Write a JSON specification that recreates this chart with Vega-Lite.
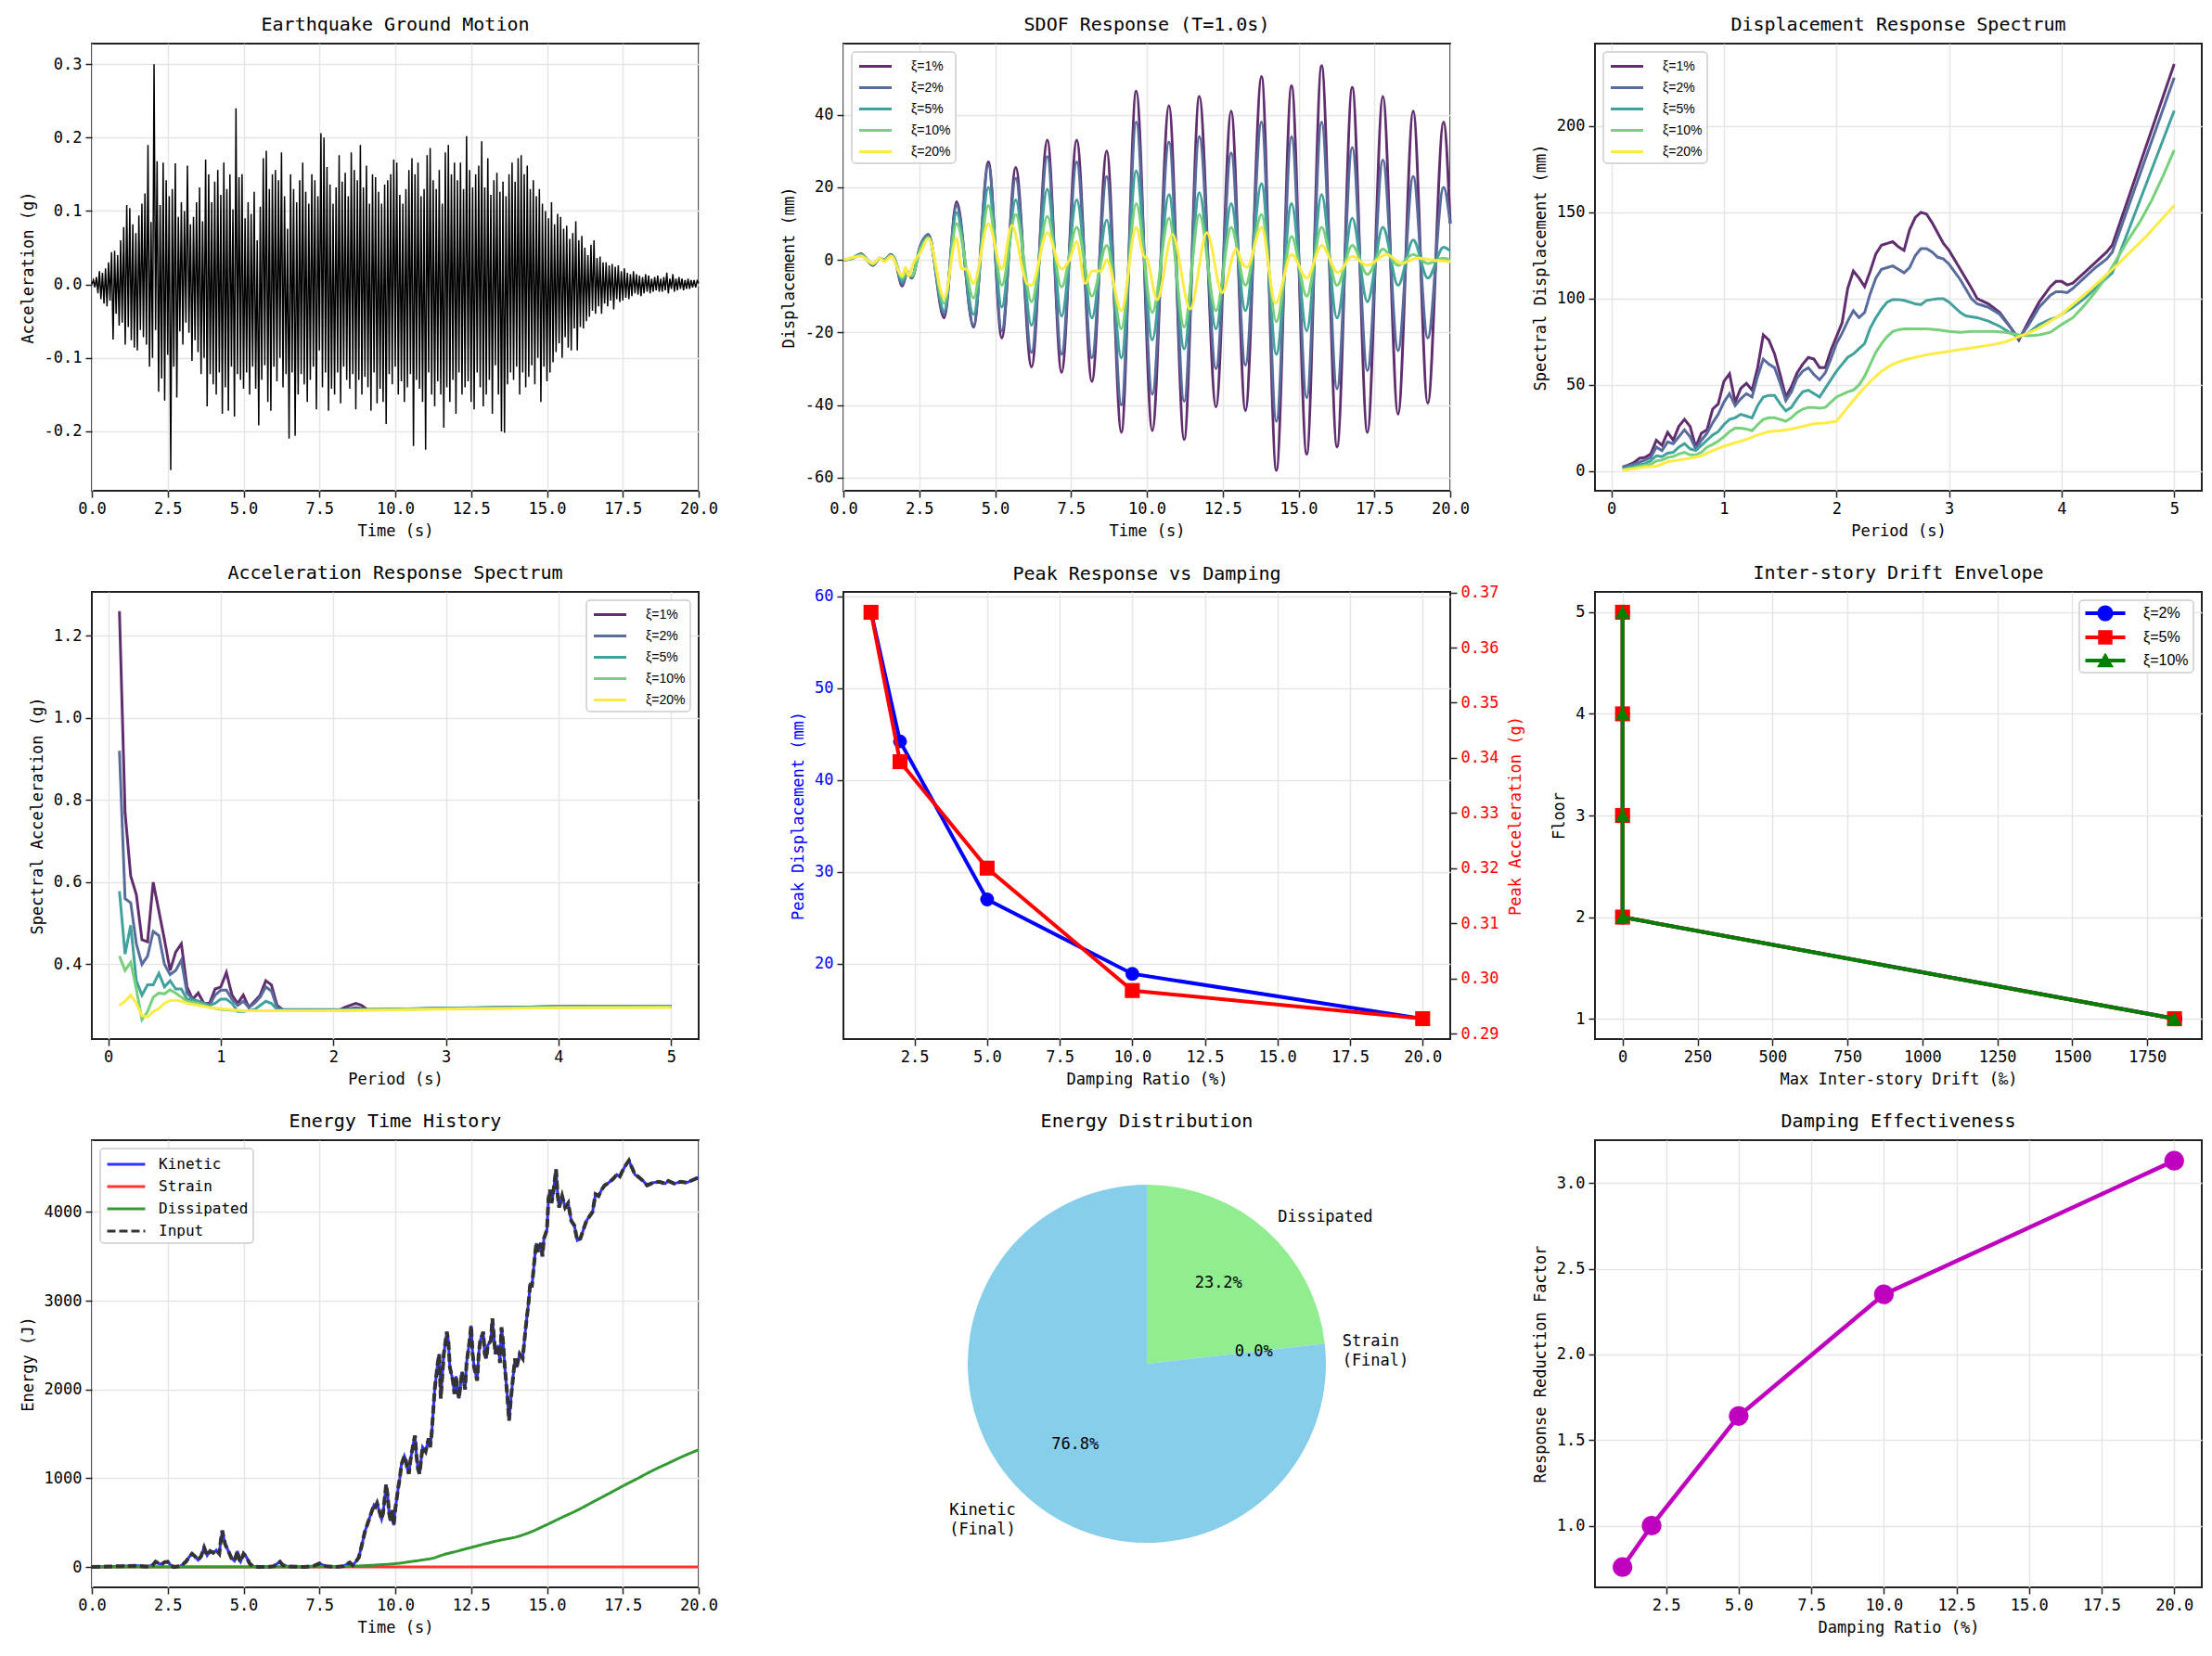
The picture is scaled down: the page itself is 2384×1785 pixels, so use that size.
{
  "$schema": "https://vega.github.io/schema/vega-lite/v6.json",
  "background": "white",
  "padding": {"left": 20, "top": 16, "right": 5, "bottom": 5},
  "bounds": "flush",
  "columns": 3,
  "spacing": {"row": 109, "column": 156},
  "resolve": {"scale": {"color": "independent", "shape": "independent", "strokeDash": "independent", "theta": "independent"}},
  "config": {
    "font": "DejaVu Sans Mono",
    "view": {"stroke": "#222222", "strokeWidth": 2},
    "axis": {
      "labelFont": "DejaVu Sans Mono", "labelFontSize": 17, "labelColor": "#000000",
      "titleFont": "DejaVu Sans Mono", "titleFontSize": 17, "titleFontWeight": "normal", "titleColor": "#000000",
      "domain": false, "tickColor": "#222222", "tickWidth": 1.5, "tickSize": 7,
      "gridColor": "#e6e6e6", "gridWidth": 1.5, "labelPadding": 4, "titlePadding": 8,
      "labelFlush": false, "labelOverlap": false
    },
    "title": {"font": "DejaVu Sans Mono", "fontSize": 20, "fontWeight": "normal", "color": "#000000", "offset": 10, "frame": "group", "anchor": "middle"},
    "legend": {
      "labelFont": "Liberation Sans", "labelFontSize": 14, "labelColor": "#000000",
      "fillColor": "#ffffff", "strokeColor": "#cccccc", "strokeWidth": 1.5, "cornerRadius": 4,
      "padding": 5, "offset": 9, "rowPadding": 5, "symbolStrokeWidth": 3
    }
  },
  "datasets": {
    "gm": [
      {"t":0,"a":0},{"t":0.05,"a":0.006},{"t":0.1,"a":-0.004},{"t":0.15,"a":0.01},{"t":0.2,"a":-0.012},{"t":0.25,"a":0.018},{"t":0.3,"a":-0.02},{"t":0.35,"a":0.016},{"t":0.4,"a":-0.026},{"t":0.45,"a":0.022},
      {"t":0.5,"a":-0.03},{"t":0.55,"a":0.03},{"t":0.6,"a":-0.022},{"t":0.65,"a":0.044},{"t":0.7,"a":-0.075},{"t":0.75,"a":0.046},{"t":0.8,"a":-0.04},{"t":0.85,"a":0.04},{"t":0.9,"a":-0.056},{"t":0.95,"a":0.06},
      {"t":1,"a":-0.052},{"t":1.05,"a":0.078},{"t":1.1,"a":-0.082},{"t":1.15,"a":0.108},{"t":1.2,"a":-0.058},{"t":1.25,"a":0.104},{"t":1.3,"a":-0.076},{"t":1.35,"a":0.082},{"t":1.4,"a":-0.086},{"t":1.45,"a":0.07},
      {"t":1.5,"a":-0.09},{"t":1.55,"a":0.094},{"t":1.6,"a":-0.062},{"t":1.65,"a":0.11},{"t":1.7,"a":-0.072},{"t":1.75,"a":0.124},{"t":1.8,"a":-0.082},{"t":1.85,"a":0.19},{"t":1.9,"a":-0.112},{"t":1.95,"a":0.085},
      {"t":2,"a":-0.1},{"t":2.05,"a":0.3},{"t":2.1,"a":-0.062},{"t":2.15,"a":0.168},{"t":2.2,"a":-0.146},{"t":2.25,"a":0.108},{"t":2.3,"a":-0.128},{"t":2.35,"a":0.166},{"t":2.4,"a":-0.158},{"t":2.45,"a":0.142},
      {"t":2.5,"a":-0.096},{"t":2.55,"a":0.12},{"t":2.6,"a":-0.253},{"t":2.65,"a":0.13},{"t":2.7,"a":-0.112},{"t":2.75,"a":0.165},{"t":2.8,"a":-0.154},{"t":2.85,"a":0.092},{"t":2.9,"a":-0.064},{"t":2.95,"a":0.112},
      {"t":3,"a":-0.082},{"t":3.05,"a":0.1},{"t":3.1,"a":-0.052},{"t":3.15,"a":0.162},{"t":3.2,"a":-0.066},{"t":3.25,"a":0.082},{"t":3.3,"a":-0.104},{"t":3.35,"a":0.092},{"t":3.4,"a":-0.076},{"t":3.45,"a":0.112},
      {"t":3.5,"a":-0.092},{"t":3.55,"a":0.132},{"t":3.6,"a":-0.122},{"t":3.65,"a":0.086},{"t":3.7,"a":-0.1},{"t":3.75,"a":0.17},{"t":3.8,"a":-0.166},{"t":3.85,"a":0.15},{"t":3.9,"a":-0.122},{"t":3.95,"a":0.112},
      {"t":4,"a":-0.136},{"t":4.05,"a":0.14},{"t":4.1,"a":-0.15},{"t":4.15,"a":0.156},{"t":4.2,"a":-0.12},{"t":4.25,"a":0.122},{"t":4.3,"a":-0.176},{"t":4.35,"a":0.166},{"t":4.4,"a":-0.14},{"t":4.45,"a":0.13},
      {"t":4.5,"a":-0.172},{"t":4.55,"a":0.15},{"t":4.6,"a":-0.112},{"t":4.65,"a":0.102},{"t":4.7,"a":-0.18},{"t":4.75,"a":0.24},{"t":4.8,"a":-0.122},{"t":4.85,"a":0.146},{"t":4.9,"a":-0.13},{"t":4.95,"a":0.15},
      {"t":5,"a":-0.142},{"t":5.05,"a":0.09},{"t":5.1,"a":-0.12},{"t":5.15,"a":0.112},{"t":5.2,"a":-0.15},{"t":5.25,"a":0.096},{"t":5.3,"a":-0.112},{"t":5.35,"a":0.126},{"t":5.4,"a":-0.142},{"t":5.45,"a":0.06},
      {"t":5.5,"a":-0.192},{"t":5.55,"a":0.106},{"t":5.6,"a":-0.13},{"t":5.65,"a":0.172},{"t":5.7,"a":-0.11},{"t":5.75,"a":0.182},{"t":5.8,"a":-0.16},{"t":5.85,"a":0.13},{"t":5.9,"a":-0.172},{"t":5.95,"a":0.15},
      {"t":6,"a":-0.112},{"t":6.05,"a":0.156},{"t":6.1,"a":-0.132},{"t":6.15,"a":0.142},{"t":6.2,"a":-0.1},{"t":6.25,"a":0.18},{"t":6.3,"a":-0.14},{"t":6.35,"a":0.12},{"t":6.4,"a":-0.122},{"t":6.45,"a":0.076},
      {"t":6.5,"a":-0.21},{"t":6.55,"a":0.15},{"t":6.6,"a":-0.12},{"t":6.65,"a":0.13},{"t":6.7,"a":-0.206},{"t":6.75,"a":0.112},{"t":6.8,"a":-0.15},{"t":6.85,"a":0.142},{"t":6.9,"a":-0.122},{"t":6.95,"a":0.166},
      {"t":7,"a":-0.136},{"t":7.05,"a":0.126},{"t":7.1,"a":-0.16},{"t":7.15,"a":0.11},{"t":7.2,"a":-0.13},{"t":7.25,"a":0.15},{"t":7.3,"a":-0.112},{"t":7.35,"a":0.142},{"t":7.4,"a":-0.17},{"t":7.45,"a":0.12},
      {"t":7.5,"a":-0.09},{"t":7.55,"a":0.206},{"t":7.6,"a":-0.14},{"t":7.65,"a":0.2},{"t":7.7,"a":-0.12},{"t":7.75,"a":0.16},{"t":7.8,"a":-0.172},{"t":7.85,"a":0.136},{"t":7.9,"a":-0.142},{"t":7.95,"a":0.11},
      {"t":8,"a":-0.15},{"t":8.05,"a":0.132},{"t":8.1,"a":-0.12},{"t":8.15,"a":0.176},{"t":8.2,"a":-0.162},{"t":8.25,"a":0.14},{"t":8.3,"a":-0.112},{"t":8.35,"a":0.152},{"t":8.4,"a":-0.13},{"t":8.45,"a":0.12},
      {"t":8.5,"a":-0.142},{"t":8.55,"a":0.18},{"t":8.6,"a":-0.122},{"t":8.65,"a":0.156},{"t":8.7,"a":-0.17},{"t":8.75,"a":0.142},{"t":8.8,"a":-0.13},{"t":8.85,"a":0.19},{"t":8.9,"a":-0.15},{"t":8.95,"a":0.132},
      {"t":9,"a":-0.126},{"t":9.05,"a":0.162},{"t":9.1,"a":-0.14},{"t":9.15,"a":0.11},{"t":9.2,"a":-0.172},{"t":9.25,"a":0.15},{"t":9.3,"a":-0.12},{"t":9.35,"a":0.146},{"t":9.4,"a":-0.162},{"t":9.45,"a":0.126},
      {"t":9.5,"a":-0.142},{"t":9.55,"a":0.11},{"t":9.6,"a":-0.16},{"t":9.65,"a":0.136},{"t":9.7,"a":-0.19},{"t":9.75,"a":0.142},{"t":9.8,"a":-0.122},{"t":9.85,"a":0.15},{"t":9.9,"a":-0.136},{"t":9.95,"a":0.17},
      {"t":10,"a":-0.112},{"t":10.05,"a":0.166},{"t":10.1,"a":-0.15},{"t":10.15,"a":0.122},{"t":10.2,"a":-0.132},{"t":10.25,"a":0.11},{"t":10.3,"a":-0.16},{"t":10.35,"a":0.13},{"t":10.4,"a":-0.14},{"t":10.45,"a":0.156},
      {"t":10.5,"a":-0.122},{"t":10.55,"a":0.172},{"t":10.6,"a":-0.22},{"t":10.65,"a":0.15},{"t":10.7,"a":-0.13},{"t":10.75,"a":0.166},{"t":10.8,"a":-0.142},{"t":10.85,"a":0.12},{"t":10.9,"a":-0.16},{"t":10.95,"a":0.13},
      {"t":11,"a":-0.225},{"t":11.05,"a":0.176},{"t":11.1,"a":-0.12},{"t":11.15,"a":0.186},{"t":11.2,"a":-0.15},{"t":11.25,"a":0.142},{"t":11.3,"a":-0.166},{"t":11.35,"a":0.13},{"t":11.4,"a":-0.132},{"t":11.45,"a":0.156},
      {"t":11.5,"a":-0.15},{"t":11.55,"a":0.11},{"t":11.6,"a":-0.195},{"t":11.65,"a":0.18},{"t":11.7,"a":-0.14},{"t":11.75,"a":0.19},{"t":11.8,"a":-0.16},{"t":11.85,"a":0.15},{"t":11.9,"a":-0.13},{"t":11.95,"a":0.166},
      {"t":12,"a":-0.176},{"t":12.05,"a":0.142},{"t":12.1,"a":-0.12},{"t":12.15,"a":0.166},{"t":12.2,"a":-0.15},{"t":12.25,"a":0.13},{"t":12.3,"a":-0.14},{"t":12.35,"a":0.202},{"t":12.4,"a":-0.132},{"t":12.45,"a":0.156},
      {"t":12.5,"a":-0.16},{"t":12.55,"a":0.132},{"t":12.6,"a":-0.17},{"t":12.65,"a":0.15},{"t":12.7,"a":-0.12},{"t":12.75,"a":0.162},{"t":12.8,"a":-0.14},{"t":12.85,"a":0.195},{"t":12.9,"a":-0.166},{"t":12.95,"a":0.132},
      {"t":13,"a":-0.15},{"t":13.05,"a":0.172},{"t":13.1,"a":-0.13},{"t":13.15,"a":0.122},{"t":13.2,"a":-0.176},{"t":13.25,"a":0.142},{"t":13.3,"a":-0.11},{"t":13.35,"a":0.152},{"t":13.4,"a":-0.15},{"t":13.45,"a":0.126},
      {"t":13.5,"a":-0.2},{"t":13.55,"a":0.14},{"t":13.6,"a":-0.202},{"t":13.65,"a":0.12},{"t":13.7,"a":-0.136},{"t":13.75,"a":0.15},{"t":13.8,"a":-0.12},{"t":13.85,"a":0.166},{"t":13.9,"a":-0.13},{"t":13.95,"a":0.14},
      {"t":14,"a":-0.112},{"t":14.05,"a":0.172},{"t":14.1,"a":-0.15},{"t":14.15,"a":0.176},{"t":14.2,"a":-0.12},{"t":14.25,"a":0.15},{"t":14.3,"a":-0.14},{"t":14.35,"a":0.162},{"t":14.4,"a":-0.126},{"t":14.45,"a":0.13},
      {"t":14.5,"a":-0.11},{"t":14.55,"a":0.142},{"t":14.6,"a":-0.136},{"t":14.65,"a":0.12},{"t":14.7,"a":-0.1},{"t":14.75,"a":0.13},{"t":14.8,"a":-0.16},{"t":14.85,"a":0.11},{"t":14.9,"a":-0.112},{"t":14.95,"a":0.1},
      {"t":15,"a":-0.132},{"t":15.05,"a":0.09},{"t":15.1,"a":-0.12},{"t":15.15,"a":0.112},{"t":15.2,"a":-0.106},{"t":15.25,"a":0.082},{"t":15.3,"a":-0.092},{"t":15.35,"a":0.096},{"t":15.4,"a":-0.08},{"t":15.45,"a":0.092},
      {"t":15.5,"a":-0.1},{"t":15.55,"a":0.076},{"t":15.6,"a":-0.072},{"t":15.65,"a":0.08},{"t":15.7,"a":-0.086},{"t":15.75,"a":0.062},{"t":15.8,"a":-0.09},{"t":15.85,"a":0.07},{"t":15.9,"a":-0.06},{"t":15.95,"a":0.086},
      {"t":16,"a":-0.09},{"t":16.05,"a":0.06},{"t":16.1,"a":-0.058},{"t":16.15,"a":0.066},{"t":16.2,"a":-0.06},{"t":16.25,"a":0.05},{"t":16.3,"a":-0.05},{"t":16.35,"a":0.04},{"t":16.4,"a":-0.044},{"t":16.45,"a":0.054},
      {"t":16.5,"a":-0.036},{"t":16.55,"a":0.06},{"t":16.6,"a":-0.04},{"t":16.65,"a":0.036},{"t":16.7,"a":-0.03},{"t":16.75,"a":0.038},{"t":16.8,"a":-0.04},{"t":16.85,"a":0.03},{"t":16.9,"a":-0.026},{"t":16.95,"a":0.03},
      {"t":17,"a":-0.03},{"t":17.05,"a":0.026},{"t":17.1,"a":-0.022},{"t":17.15,"a":0.028},{"t":17.2,"a":-0.034},{"t":17.25,"a":0.024},{"t":17.3,"a":-0.02},{"t":17.35,"a":0.026},{"t":17.4,"a":-0.024},{"t":17.45,"a":0.018},
      {"t":17.5,"a":-0.022},{"t":17.55,"a":0.022},{"t":17.6,"a":-0.018},{"t":17.65,"a":0.016},{"t":17.7,"a":-0.02},{"t":17.75,"a":0.014},{"t":17.8,"a":-0.016},{"t":17.85,"a":0.018},{"t":17.9,"a":-0.012},{"t":17.95,"a":0.014},
      {"t":18,"a":-0.014},{"t":18.05,"a":0.012},{"t":18.1,"a":-0.016},{"t":18.15,"a":0.01},{"t":18.2,"a":-0.012},{"t":18.25,"a":0.014},{"t":18.3,"a":-0.01},{"t":18.35,"a":0.012},{"t":18.4,"a":-0.012},{"t":18.45,"a":0.008},
      {"t":18.5,"a":-0.01},{"t":18.55,"a":0.01},{"t":18.6,"a":-0.008},{"t":18.65,"a":0.012},{"t":18.7,"a":-0.01},{"t":18.75,"a":0.008},{"t":18.8,"a":-0.01},{"t":18.85,"a":0.01},{"t":18.9,"a":-0.008},{"t":18.95,"a":0.016},
      {"t":19,"a":-0.012},{"t":19.05,"a":0.008},{"t":19.1,"a":-0.006},{"t":19.15,"a":0.014},{"t":19.2,"a":-0.01},{"t":19.25,"a":0.008},{"t":19.3,"a":-0.008},{"t":19.35,"a":0.01},{"t":19.4,"a":-0.006},{"t":19.45,"a":0.008},
      {"t":19.5,"a":-0.008},{"t":19.55,"a":0.006},{"t":19.6,"a":-0.006},{"t":19.65,"a":0.008},{"t":19.7,"a":-0.006},{"t":19.75,"a":0.006},{"t":19.8,"a":-0.004},{"t":19.85,"a":0.006},{"t":19.9,"a":-0.004},{"t":19.95,"a":0.005},
      {"t":20,"a":0.002}
    ],
    "sdof": [
      {"x":"ξ=1%","t":0,"d":0},{"x":"ξ=1%","t":0.3,"d":0.5},{"x":"ξ=1%","t":0.58,"d":1.7},{"x":"ξ=1%","t":0.75,"d":0.3},{"x":"ξ=1%","t":0.97,"d":-1.5},{"x":"ξ=1%","t":1.2,"d":0.5},{"x":"ξ=1%","t":1.35,"d":0},{"x":"ξ=1%","t":1.57,"d":1.5},{"x":"ξ=1%","t":1.7,"d":0},{"x":"ξ=1%","t":1.94,"d":-7.2},
      {"x":"ξ=1%","t":2.1,"d":-3.5},{"x":"ξ=1%","t":2.25,"d":-5},{"x":"ξ=1%","t":2.54,"d":4},{"x":"ξ=1%","t":2.8,"d":7},{"x":"ξ=1%","t":3.32,"d":-16},{"x":"ξ=1%","t":3.73,"d":16},{"x":"ξ=1%","t":4.29,"d":-18.5},{"x":"ξ=1%","t":4.78,"d":27},{"x":"ξ=1%","t":5.22,"d":-21.5},{"x":"ξ=1%","t":5.68,"d":25.5},
      {"x":"ξ=1%","t":6.2,"d":-29.5},{"x":"ξ=1%","t":6.72,"d":33},{"x":"ξ=1%","t":7.19,"d":-31},{"x":"ξ=1%","t":7.69,"d":33},{"x":"ξ=1%","t":8.19,"d":-33.5},{"x":"ξ=1%","t":8.68,"d":30},{"x":"ξ=1%","t":9.16,"d":-47.5},{"x":"ξ=1%","t":9.65,"d":46.5},{"x":"ξ=1%","t":10.18,"d":-47},{"x":"ξ=1%","t":10.73,"d":42.5},
      {"x":"ξ=1%","t":11.23,"d":-49.5},{"x":"ξ=1%","t":11.73,"d":45},{"x":"ξ=1%","t":12.28,"d":-40.5},{"x":"ξ=1%","t":12.78,"d":41},{"x":"ξ=1%","t":13.25,"d":-41.5},{"x":"ξ=1%","t":13.78,"d":50.5},{"x":"ξ=1%","t":14.27,"d":-58},{"x":"ξ=1%","t":14.77,"d":48},{"x":"ξ=1%","t":15.27,"d":-53.5},{"x":"ξ=1%","t":15.76,"d":53.5},
      {"x":"ξ=1%","t":16.27,"d":-51.5},{"x":"ξ=1%","t":16.77,"d":47.5},{"x":"ξ=1%","t":17.27,"d":-47.5},{"x":"ξ=1%","t":17.78,"d":45},{"x":"ξ=1%","t":18.28,"d":-42.5},{"x":"ξ=1%","t":18.78,"d":41},{"x":"ξ=1%","t":19.26,"d":-39.5},{"x":"ξ=1%","t":19.78,"d":38},{"x":"ξ=1%","t":20,"d":10},
      {"x":"ξ=2%","t":0,"d":0},{"x":"ξ=2%","t":0.3,"d":0.5},{"x":"ξ=2%","t":0.58,"d":1.6},{"x":"ξ=2%","t":0.75,"d":0.3},{"x":"ξ=2%","t":0.97,"d":-1.4},{"x":"ξ=2%","t":1.2,"d":0.5},{"x":"ξ=2%","t":1.35,"d":0},{"x":"ξ=2%","t":1.57,"d":1.4},{"x":"ξ=2%","t":1.7,"d":0},{"x":"ξ=2%","t":1.94,"d":-6.8},
      {"x":"ξ=2%","t":2.1,"d":-3.5},{"x":"ξ=2%","t":2.25,"d":-4.8},{"x":"ξ=2%","t":2.54,"d":4},{"x":"ξ=2%","t":2.8,"d":6.8},{"x":"ξ=2%","t":3.32,"d":-15},{"x":"ξ=2%","t":3.73,"d":15},{"x":"ξ=2%","t":4.29,"d":-18},{"x":"ξ=2%","t":4.78,"d":26},{"x":"ξ=2%","t":5.22,"d":-19.5},{"x":"ξ=2%","t":5.68,"d":22.5},
      {"x":"ξ=2%","t":6.2,"d":-25.5},{"x":"ξ=2%","t":6.72,"d":28.5},{"x":"ξ=2%","t":7.19,"d":-26},{"x":"ξ=2%","t":7.69,"d":27},{"x":"ξ=2%","t":8.19,"d":-27},{"x":"ξ=2%","t":8.68,"d":23},{"x":"ξ=2%","t":9.16,"d":-40},{"x":"ξ=2%","t":9.65,"d":38},{"x":"ξ=2%","t":10.18,"d":-37},{"x":"ξ=2%","t":10.73,"d":32.5},
      {"x":"ξ=2%","t":11.23,"d":-39},{"x":"ξ=2%","t":11.73,"d":34},{"x":"ξ=2%","t":12.28,"d":-30},{"x":"ξ=2%","t":12.78,"d":29.5},{"x":"ξ=2%","t":13.25,"d":-29},{"x":"ξ=2%","t":13.78,"d":38},{"x":"ξ=2%","t":14.27,"d":-44.5},{"x":"ξ=2%","t":14.77,"d":34},{"x":"ξ=2%","t":15.27,"d":-38},{"x":"ξ=2%","t":15.76,"d":38},
      {"x":"ξ=2%","t":16.27,"d":-35.5},{"x":"ξ=2%","t":16.77,"d":31},{"x":"ξ=2%","t":17.27,"d":-30.5},{"x":"ξ=2%","t":17.78,"d":27.5},{"x":"ξ=2%","t":18.28,"d":-25},{"x":"ξ=2%","t":18.78,"d":23},{"x":"ξ=2%","t":19.26,"d":-21.5},{"x":"ξ=2%","t":19.78,"d":20},{"x":"ξ=2%","t":20,"d":10},
      {"x":"ξ=5%","t":0,"d":0},{"x":"ξ=5%","t":0.3,"d":0.5},{"x":"ξ=5%","t":0.58,"d":1.5},{"x":"ξ=5%","t":0.75,"d":0.3},{"x":"ξ=5%","t":0.97,"d":-1.3},{"x":"ξ=5%","t":1.2,"d":0.4},{"x":"ξ=5%","t":1.35,"d":0},{"x":"ξ=5%","t":1.57,"d":1.3},{"x":"ξ=5%","t":1.7,"d":0},{"x":"ξ=5%","t":1.94,"d":-6},
      {"x":"ξ=5%","t":2.1,"d":-3.5},{"x":"ξ=5%","t":2.25,"d":-4.5},{"x":"ξ=5%","t":2.54,"d":3.5},{"x":"ξ=5%","t":2.8,"d":6.5},{"x":"ξ=5%","t":3.32,"d":-14},{"x":"ξ=5%","t":3.73,"d":13},{"x":"ξ=5%","t":4.29,"d":-15},{"x":"ξ=5%","t":4.78,"d":20},{"x":"ξ=5%","t":5.22,"d":-13},{"x":"ξ=5%","t":5.68,"d":16.5},
      {"x":"ξ=5%","t":6.2,"d":-18},{"x":"ξ=5%","t":6.72,"d":19.5},{"x":"ξ=5%","t":7.19,"d":-15.5},{"x":"ξ=5%","t":7.69,"d":16.5},{"x":"ξ=5%","t":8.19,"d":-16},{"x":"ξ=5%","t":8.68,"d":11},{"x":"ξ=5%","t":9.16,"d":-27},{"x":"ξ=5%","t":9.65,"d":24.5},{"x":"ξ=5%","t":10.18,"d":-22},{"x":"ξ=5%","t":10.73,"d":18},
      {"x":"ξ=5%","t":11.23,"d":-24.5},{"x":"ξ=5%","t":11.73,"d":18.5},{"x":"ξ=5%","t":12.28,"d":-19},{"x":"ξ=5%","t":12.78,"d":15.5},{"x":"ξ=5%","t":13.25,"d":-14},{"x":"ξ=5%","t":13.78,"d":21},{"x":"ξ=5%","t":14.27,"d":-26},{"x":"ξ=5%","t":14.77,"d":15.5},{"x":"ξ=5%","t":15.27,"d":-19.5},{"x":"ξ=5%","t":15.76,"d":18},
      {"x":"ξ=5%","t":16.27,"d":-16},{"x":"ξ=5%","t":16.77,"d":11.5},{"x":"ξ=5%","t":17.27,"d":-11.5},{"x":"ξ=5%","t":17.78,"d":9},{"x":"ξ=5%","t":18.28,"d":-7},{"x":"ξ=5%","t":18.78,"d":5.5},{"x":"ξ=5%","t":19.26,"d":-5},{"x":"ξ=5%","t":19.78,"d":3.5},{"x":"ξ=5%","t":20,"d":2.5},
      {"x":"ξ=10%","t":0,"d":0},{"x":"ξ=10%","t":0.3,"d":0.5},{"x":"ξ=10%","t":0.58,"d":1.3},{"x":"ξ=10%","t":0.75,"d":0.3},{"x":"ξ=10%","t":0.97,"d":-1.1},{"x":"ξ=10%","t":1.2,"d":0.4},{"x":"ξ=10%","t":1.35,"d":0},{"x":"ξ=10%","t":1.57,"d":1.2},{"x":"ξ=10%","t":1.7,"d":0},{"x":"ξ=10%","t":1.94,"d":-5},
      {"x":"ξ=10%","t":2.1,"d":-3},{"x":"ξ=10%","t":2.25,"d":-4.5},{"x":"ξ=10%","t":2.54,"d":3},{"x":"ξ=10%","t":2.8,"d":6},{"x":"ξ=10%","t":3.32,"d":-12},{"x":"ξ=10%","t":3.73,"d":10},{"x":"ξ=10%","t":4.29,"d":-10.5},{"x":"ξ=10%","t":4.78,"d":15},{"x":"ξ=10%","t":5.22,"d":-7},{"x":"ξ=10%","t":5.68,"d":12.5},
      {"x":"ξ=10%","t":6.2,"d":-11.5},{"x":"ξ=10%","t":6.72,"d":12},{"x":"ξ=10%","t":7.19,"d":-7.5},{"x":"ξ=10%","t":7.69,"d":9},{"x":"ξ=10%","t":8.19,"d":-10},{"x":"ξ=10%","t":8.68,"d":4},{"x":"ξ=10%","t":9.16,"d":-19},{"x":"ξ=10%","t":9.65,"d":15.5},{"x":"ξ=10%","t":10.18,"d":-14.5},{"x":"ξ=10%","t":10.73,"d":11.5},
      {"x":"ξ=10%","t":11.23,"d":-18.5},{"x":"ξ=10%","t":11.73,"d":12.5},{"x":"ξ=10%","t":12.28,"d":-14},{"x":"ξ=10%","t":12.78,"d":9},{"x":"ξ=10%","t":13.25,"d":-7},{"x":"ξ=10%","t":13.78,"d":12.5},{"x":"ξ=10%","t":14.27,"d":-17},{"x":"ξ=10%","t":14.77,"d":6.5},{"x":"ξ=10%","t":15.27,"d":-10},{"x":"ξ=10%","t":15.76,"d":9},
      {"x":"ξ=10%","t":16.27,"d":-7},{"x":"ξ=10%","t":16.77,"d":4},{"x":"ξ=10%","t":17.27,"d":-4},{"x":"ξ=10%","t":17.78,"d":3},{"x":"ξ=10%","t":18.28,"d":-1.5},{"x":"ξ=10%","t":18.78,"d":1.5},{"x":"ξ=10%","t":19.26,"d":-1},{"x":"ξ=10%","t":19.78,"d":0.5},{"x":"ξ=10%","t":20,"d":0},
      {"x":"ξ=20%","t":0,"d":0},{"x":"ξ=20%","t":0.58,"d":1},{"x":"ξ=20%","t":0.97,"d":-1},{"x":"ξ=20%","t":1.2,"d":0.5},{"x":"ξ=20%","t":1.35,"d":-0.5},{"x":"ξ=20%","t":1.57,"d":1},{"x":"ξ=20%","t":1.94,"d":-4.5},{"x":"ξ=20%","t":2.05,"d":-2},{"x":"ξ=20%","t":2.15,"d":-4.5},{"x":"ξ=20%","t":2.3,"d":-1},
      {"x":"ξ=20%","t":2.54,"d":2},{"x":"ξ=20%","t":2.8,"d":6},{"x":"ξ=20%","t":3.32,"d":-10.5},{"x":"ξ=20%","t":3.73,"d":6},{"x":"ξ=20%","t":3.9,"d":-2.5},{"x":"ξ=20%","t":4.05,"d":-2.5},{"x":"ξ=20%","t":4.29,"d":-6.5},{"x":"ξ=20%","t":4.78,"d":10},{"x":"ξ=20%","t":5.22,"d":-2.5},{"x":"ξ=20%","t":5.55,"d":9.5},
      {"x":"ξ=20%","t":6.05,"d":-6.5},{"x":"ξ=20%","t":6.2,"d":-7},{"x":"ξ=20%","t":6.72,"d":7.5},{"x":"ξ=20%","t":7.19,"d":-2.5},{"x":"ξ=20%","t":7.45,"d":0},{"x":"ξ=20%","t":7.69,"d":5},{"x":"ξ=20%","t":7.97,"d":-6.5},{"x":"ξ=20%","t":8.2,"d":-3},{"x":"ξ=20%","t":8.5,"d":-3},{"x":"ξ=20%","t":8.68,"d":0},
      {"x":"ξ=20%","t":9.16,"d":-14},{"x":"ξ=20%","t":9.65,"d":9},{"x":"ξ=20%","t":9.9,"d":1},{"x":"ξ=20%","t":10,"d":0.5},{"x":"ξ=20%","t":10.34,"d":-11},{"x":"ξ=20%","t":10.84,"d":7},{"x":"ξ=20%","t":11.43,"d":-13.5},{"x":"ξ=20%","t":11.98,"d":7.5},{"x":"ξ=20%","t":12.48,"d":-9},{"x":"ξ=20%","t":12.95,"d":3},
      {"x":"ξ=20%","t":13.15,"d":-1},{"x":"ξ=20%","t":13.3,"d":-2},{"x":"ξ=20%","t":13.78,"d":9},{"x":"ξ=20%","t":14.24,"d":-12},{"x":"ξ=20%","t":14.77,"d":1.5},{"x":"ξ=20%","t":15.27,"d":-5},{"x":"ξ=20%","t":15.76,"d":4},{"x":"ξ=20%","t":16.3,"d":-3.5},{"x":"ξ=20%","t":16.77,"d":1},{"x":"ξ=20%","t":17.27,"d":-1.5},
      {"x":"ξ=20%","t":17.9,"d":1.5},{"x":"ξ=20%","t":18.4,"d":-1},{"x":"ξ=20%","t":18.9,"d":0.5},{"x":"ξ=20%","t":19.4,"d":0},{"x":"ξ=20%","t":20,"d":-0.5}
    ],
    "sd": [
      {"x":"ξ=1%","T":0.1,"v":2.5},{"x":"ξ=1%","T":0.15,"v":3.5},{"x":"ξ=1%","T":0.2,"v":5},{"x":"ξ=1%","T":0.25,"v":7.5},{"x":"ξ=1%","T":0.3,"v":8},{"x":"ξ=1%","T":0.35,"v":10},{"x":"ξ=1%","T":0.4,"v":18},{"x":"ξ=1%","T":0.45,"v":15},{"x":"ξ=1%","T":0.5,"v":22.5},{"x":"ξ=1%","T":0.55,"v":18},
      {"x":"ξ=1%","T":0.6,"v":26},{"x":"ξ=1%","T":0.65,"v":30},{"x":"ξ=1%","T":0.7,"v":26},{"x":"ξ=1%","T":0.75,"v":14},{"x":"ξ=1%","T":0.8,"v":22},{"x":"ξ=1%","T":0.85,"v":24},{"x":"ξ=1%","T":0.9,"v":36},{"x":"ξ=1%","T":0.95,"v":39},{"x":"ξ=1%","T":1,"v":52},{"x":"ξ=1%","T":1.05,"v":56.5},
      {"x":"ξ=1%","T":1.1,"v":40},{"x":"ξ=1%","T":1.15,"v":48},{"x":"ξ=1%","T":1.2,"v":51},{"x":"ξ=1%","T":1.25,"v":47},{"x":"ξ=1%","T":1.3,"v":60},{"x":"ξ=1%","T":1.35,"v":79},{"x":"ξ=1%","T":1.4,"v":76},{"x":"ξ=1%","T":1.45,"v":68},{"x":"ξ=1%","T":1.5,"v":56},{"x":"ξ=1%","T":1.55,"v":43},
      {"x":"ξ=1%","T":1.6,"v":49},{"x":"ξ=1%","T":1.65,"v":57},{"x":"ξ=1%","T":1.7,"v":62},{"x":"ξ=1%","T":1.75,"v":66},{"x":"ξ=1%","T":1.8,"v":65},{"x":"ξ=1%","T":1.85,"v":60},{"x":"ξ=1%","T":1.9,"v":60},{"x":"ξ=1%","T":1.95,"v":70},{"x":"ξ=1%","T":2,"v":78},{"x":"ξ=1%","T":2.05,"v":86},
      {"x":"ξ=1%","T":2.1,"v":106},{"x":"ξ=1%","T":2.15,"v":116},{"x":"ξ=1%","T":2.2,"v":112},{"x":"ξ=1%","T":2.25,"v":107},{"x":"ξ=1%","T":2.3,"v":116},{"x":"ξ=1%","T":2.35,"v":126},{"x":"ξ=1%","T":2.4,"v":131},{"x":"ξ=1%","T":2.45,"v":132},{"x":"ξ=1%","T":2.5,"v":133},{"x":"ξ=1%","T":2.55,"v":130},
      {"x":"ξ=1%","T":2.6,"v":128},{"x":"ξ=1%","T":2.65,"v":140},{"x":"ξ=1%","T":2.7,"v":147},{"x":"ξ=1%","T":2.75,"v":150},{"x":"ξ=1%","T":2.8,"v":149},{"x":"ξ=1%","T":2.85,"v":144},{"x":"ξ=1%","T":2.9,"v":138},{"x":"ξ=1%","T":2.95,"v":132},{"x":"ξ=1%","T":3,"v":128},{"x":"ξ=1%","T":3.1,"v":117},
      {"x":"ξ=1%","T":3.2,"v":106},{"x":"ξ=1%","T":3.25,"v":100},{"x":"ξ=1%","T":3.35,"v":97},{"x":"ξ=1%","T":3.45,"v":92},{"x":"ξ=1%","T":3.55,"v":83},{"x":"ξ=1%","T":3.62,"v":76},{"x":"ξ=1%","T":3.7,"v":86},{"x":"ξ=1%","T":3.8,"v":98},{"x":"ξ=1%","T":3.9,"v":107},{"x":"ξ=1%","T":3.95,"v":110},
      {"x":"ξ=1%","T":4,"v":110},{"x":"ξ=1%","T":4.05,"v":108},{"x":"ξ=1%","T":4.1,"v":109},{"x":"ξ=1%","T":4.2,"v":115},{"x":"ξ=1%","T":4.3,"v":121},{"x":"ξ=1%","T":4.4,"v":127},{"x":"ξ=1%","T":4.45,"v":131},{"x":"ξ=1%","T":5,"v":236},
      {"x":"ξ=2%","T":0.1,"v":2},{"x":"ξ=2%","T":0.2,"v":4},{"x":"ξ=2%","T":0.3,"v":6.5},{"x":"ξ=2%","T":0.35,"v":8},{"x":"ξ=2%","T":0.4,"v":14},{"x":"ξ=2%","T":0.45,"v":12},{"x":"ξ=2%","T":0.5,"v":17},{"x":"ξ=2%","T":0.55,"v":16},{"x":"ξ=2%","T":0.6,"v":20},{"x":"ξ=2%","T":0.65,"v":24},
      {"x":"ξ=2%","T":0.7,"v":20},{"x":"ξ=2%","T":0.75,"v":13},{"x":"ξ=2%","T":0.8,"v":18},{"x":"ξ=2%","T":0.85,"v":22},{"x":"ξ=2%","T":0.9,"v":28},{"x":"ξ=2%","T":0.95,"v":33},{"x":"ξ=2%","T":1,"v":40},{"x":"ξ=2%","T":1.05,"v":45},{"x":"ξ=2%","T":1.1,"v":38},{"x":"ξ=2%","T":1.15,"v":42},
      {"x":"ξ=2%","T":1.2,"v":45},{"x":"ξ=2%","T":1.25,"v":43},{"x":"ξ=2%","T":1.3,"v":55},{"x":"ξ=2%","T":1.35,"v":65},{"x":"ξ=2%","T":1.4,"v":62},{"x":"ξ=2%","T":1.45,"v":60},{"x":"ξ=2%","T":1.5,"v":51},{"x":"ξ=2%","T":1.55,"v":41},{"x":"ξ=2%","T":1.6,"v":46},{"x":"ξ=2%","T":1.65,"v":54},
      {"x":"ξ=2%","T":1.7,"v":58},{"x":"ξ=2%","T":1.75,"v":60},{"x":"ξ=2%","T":1.8,"v":56},{"x":"ξ=2%","T":1.85,"v":53},{"x":"ξ=2%","T":1.9,"v":57},{"x":"ξ=2%","T":1.95,"v":65},{"x":"ξ=2%","T":2,"v":74},{"x":"ξ=2%","T":2.05,"v":80},{"x":"ξ=2%","T":2.1,"v":87},{"x":"ξ=2%","T":2.15,"v":93},
      {"x":"ξ=2%","T":2.2,"v":89},{"x":"ξ=2%","T":2.25,"v":92},{"x":"ξ=2%","T":2.3,"v":103},{"x":"ξ=2%","T":2.35,"v":112},{"x":"ξ=2%","T":2.4,"v":117},{"x":"ξ=2%","T":2.45,"v":118},{"x":"ξ=2%","T":2.5,"v":119},{"x":"ξ=2%","T":2.55,"v":117},{"x":"ξ=2%","T":2.6,"v":115},{"x":"ξ=2%","T":2.65,"v":118},
      {"x":"ξ=2%","T":2.7,"v":125},{"x":"ξ=2%","T":2.75,"v":129},{"x":"ξ=2%","T":2.8,"v":129},{"x":"ξ=2%","T":2.85,"v":127},{"x":"ξ=2%","T":2.9,"v":124},{"x":"ξ=2%","T":2.95,"v":123},{"x":"ξ=2%","T":3,"v":120},{"x":"ξ=2%","T":3.1,"v":111},{"x":"ξ=2%","T":3.2,"v":100},{"x":"ξ=2%","T":3.25,"v":97},
      {"x":"ξ=2%","T":3.35,"v":95},{"x":"ξ=2%","T":3.45,"v":91},{"x":"ξ=2%","T":3.55,"v":83},{"x":"ξ=2%","T":3.62,"v":77},{"x":"ξ=2%","T":3.7,"v":84},{"x":"ξ=2%","T":3.8,"v":95},{"x":"ξ=2%","T":3.9,"v":102},{"x":"ξ=2%","T":3.95,"v":104},{"x":"ξ=2%","T":4,"v":104},{"x":"ξ=2%","T":4.05,"v":103.5},
      {"x":"ξ=2%","T":4.1,"v":106},{"x":"ξ=2%","T":4.2,"v":112},{"x":"ξ=2%","T":4.3,"v":118},{"x":"ξ=2%","T":4.4,"v":123},{"x":"ξ=2%","T":4.45,"v":127},{"x":"ξ=2%","T":5,"v":228},
      {"x":"ξ=5%","T":0.1,"v":1.5},{"x":"ξ=5%","T":0.2,"v":3},{"x":"ξ=5%","T":0.3,"v":4.5},{"x":"ξ=5%","T":0.35,"v":6},{"x":"ξ=5%","T":0.4,"v":9},{"x":"ξ=5%","T":0.45,"v":8.5},{"x":"ξ=5%","T":0.5,"v":10.5},{"x":"ξ=5%","T":0.55,"v":11},{"x":"ξ=5%","T":0.6,"v":14},{"x":"ξ=5%","T":0.65,"v":16},
      {"x":"ξ=5%","T":0.7,"v":13},{"x":"ξ=5%","T":0.75,"v":12},{"x":"ξ=5%","T":0.8,"v":15},{"x":"ξ=5%","T":0.85,"v":18},{"x":"ξ=5%","T":0.9,"v":21},{"x":"ξ=5%","T":0.95,"v":23},{"x":"ξ=5%","T":1,"v":27},{"x":"ξ=5%","T":1.05,"v":30},{"x":"ξ=5%","T":1.1,"v":31},{"x":"ξ=5%","T":1.15,"v":33},
      {"x":"ξ=5%","T":1.2,"v":32},{"x":"ξ=5%","T":1.25,"v":31},{"x":"ξ=5%","T":1.3,"v":38},{"x":"ξ=5%","T":1.35,"v":43},{"x":"ξ=5%","T":1.4,"v":44},{"x":"ξ=5%","T":1.45,"v":44},{"x":"ξ=5%","T":1.5,"v":39},{"x":"ξ=5%","T":1.55,"v":35},{"x":"ξ=5%","T":1.6,"v":37},{"x":"ξ=5%","T":1.65,"v":42},
      {"x":"ξ=5%","T":1.7,"v":46},{"x":"ξ=5%","T":1.75,"v":47},{"x":"ξ=5%","T":1.8,"v":45},{"x":"ξ=5%","T":1.85,"v":43},{"x":"ξ=5%","T":1.9,"v":48},{"x":"ξ=5%","T":1.95,"v":53},{"x":"ξ=5%","T":2,"v":58},{"x":"ξ=5%","T":2.05,"v":62},{"x":"ξ=5%","T":2.1,"v":66},{"x":"ξ=5%","T":2.15,"v":68},
      {"x":"ξ=5%","T":2.2,"v":71},{"x":"ξ=5%","T":2.25,"v":74},{"x":"ξ=5%","T":2.3,"v":83},{"x":"ξ=5%","T":2.35,"v":89},{"x":"ξ=5%","T":2.4,"v":94},{"x":"ξ=5%","T":2.45,"v":98},{"x":"ξ=5%","T":2.5,"v":99.5},{"x":"ξ=5%","T":2.55,"v":99.5},{"x":"ξ=5%","T":2.6,"v":99},{"x":"ξ=5%","T":2.65,"v":98},
      {"x":"ξ=5%","T":2.7,"v":97},{"x":"ξ=5%","T":2.75,"v":96.5},{"x":"ξ=5%","T":2.8,"v":99},{"x":"ξ=5%","T":2.85,"v":99.5},{"x":"ξ=5%","T":2.9,"v":100},{"x":"ξ=5%","T":2.95,"v":100},{"x":"ξ=5%","T":3,"v":98},{"x":"ξ=5%","T":3.1,"v":92},{"x":"ξ=5%","T":3.15,"v":90},{"x":"ξ=5%","T":3.25,"v":89},
      {"x":"ξ=5%","T":3.35,"v":87},{"x":"ξ=5%","T":3.45,"v":84},{"x":"ξ=5%","T":3.55,"v":80},{"x":"ξ=5%","T":3.62,"v":78},{"x":"ξ=5%","T":3.7,"v":80},{"x":"ξ=5%","T":3.8,"v":85},{"x":"ξ=5%","T":3.9,"v":88},{"x":"ξ=5%","T":3.95,"v":89},{"x":"ξ=5%","T":4,"v":91},{"x":"ξ=5%","T":4.1,"v":95},
      {"x":"ξ=5%","T":4.2,"v":100},{"x":"ξ=5%","T":4.3,"v":106},{"x":"ξ=5%","T":4.4,"v":112},{"x":"ξ=5%","T":4.45,"v":115},{"x":"ξ=5%","T":5,"v":209},
      {"x":"ξ=10%","T":0.1,"v":1},{"x":"ξ=10%","T":0.2,"v":2},{"x":"ξ=10%","T":0.3,"v":3.5},{"x":"ξ=10%","T":0.35,"v":4},{"x":"ξ=10%","T":0.4,"v":6},{"x":"ξ=10%","T":0.45,"v":6.5},{"x":"ξ=10%","T":0.5,"v":8},{"x":"ξ=10%","T":0.55,"v":8.5},{"x":"ξ=10%","T":0.6,"v":10},{"x":"ξ=10%","T":0.65,"v":11},
      {"x":"ξ=10%","T":0.7,"v":9.5},{"x":"ξ=10%","T":0.75,"v":9.5},{"x":"ξ=10%","T":0.8,"v":11},{"x":"ξ=10%","T":0.85,"v":14},{"x":"ξ=10%","T":0.9,"v":15.5},{"x":"ξ=10%","T":0.95,"v":17.5},{"x":"ξ=10%","T":1,"v":20},{"x":"ξ=10%","T":1.05,"v":23},{"x":"ξ=10%","T":1.1,"v":25},{"x":"ξ=10%","T":1.15,"v":25},
      {"x":"ξ=10%","T":1.2,"v":24.5},{"x":"ξ=10%","T":1.25,"v":23.5},{"x":"ξ=10%","T":1.3,"v":27},{"x":"ξ=10%","T":1.35,"v":30},{"x":"ξ=10%","T":1.4,"v":31},{"x":"ξ=10%","T":1.45,"v":31},{"x":"ξ=10%","T":1.5,"v":30},{"x":"ξ=10%","T":1.55,"v":29},{"x":"ξ=10%","T":1.6,"v":31},{"x":"ξ=10%","T":1.65,"v":34},
      {"x":"ξ=10%","T":1.7,"v":36},{"x":"ξ=10%","T":1.75,"v":37},{"x":"ξ=10%","T":1.8,"v":37},{"x":"ξ=10%","T":1.85,"v":36.5},{"x":"ξ=10%","T":1.9,"v":37},{"x":"ξ=10%","T":1.95,"v":40},{"x":"ξ=10%","T":2,"v":43},{"x":"ξ=10%","T":2.1,"v":46},{"x":"ξ=10%","T":2.15,"v":47},{"x":"ξ=10%","T":2.2,"v":50},
      {"x":"ξ=10%","T":2.25,"v":55},{"x":"ξ=10%","T":2.3,"v":62},{"x":"ξ=10%","T":2.35,"v":69},{"x":"ξ=10%","T":2.4,"v":74},{"x":"ξ=10%","T":2.45,"v":78},{"x":"ξ=10%","T":2.5,"v":81},{"x":"ξ=10%","T":2.55,"v":82},{"x":"ξ=10%","T":2.6,"v":82.5},{"x":"ξ=10%","T":2.8,"v":82.5},{"x":"ξ=10%","T":2.9,"v":82},
      {"x":"ξ=10%","T":3,"v":81},{"x":"ξ=10%","T":3.1,"v":80.5},{"x":"ξ=10%","T":3.2,"v":81},{"x":"ξ=10%","T":3.4,"v":81},{"x":"ξ=10%","T":3.5,"v":80.5},{"x":"ξ=10%","T":3.62,"v":79},{"x":"ξ=10%","T":3.7,"v":78.5},{"x":"ξ=10%","T":3.8,"v":79},{"x":"ξ=10%","T":3.9,"v":80.5},{"x":"ξ=10%","T":4,"v":85},
      {"x":"ξ=10%","T":4.1,"v":89},{"x":"ξ=10%","T":4.2,"v":96},{"x":"ξ=10%","T":4.3,"v":104},{"x":"ξ=10%","T":4.4,"v":113},{"x":"ξ=10%","T":4.5,"v":124},{"x":"ξ=10%","T":4.6,"v":135},{"x":"ξ=10%","T":4.7,"v":145},{"x":"ξ=10%","T":4.8,"v":157},{"x":"ξ=10%","T":4.9,"v":171},{"x":"ξ=10%","T":5,"v":186},
      {"x":"ξ=20%","T":0.1,"v":0.5},{"x":"ξ=20%","T":0.2,"v":1.5},{"x":"ξ=20%","T":0.3,"v":2.5},{"x":"ξ=20%","T":0.4,"v":3},{"x":"ξ=20%","T":0.5,"v":5.5},{"x":"ξ=20%","T":0.6,"v":6.5},{"x":"ξ=20%","T":0.7,"v":7.5},{"x":"ξ=20%","T":0.8,"v":9},{"x":"ξ=20%","T":0.9,"v":12},{"x":"ξ=20%","T":1,"v":14.5},
      {"x":"ξ=20%","T":1.1,"v":16.5},{"x":"ξ=20%","T":1.2,"v":18.5},{"x":"ξ=20%","T":1.3,"v":21},{"x":"ξ=20%","T":1.4,"v":23},{"x":"ξ=20%","T":1.5,"v":23.5},{"x":"ξ=20%","T":1.6,"v":24.5},{"x":"ξ=20%","T":1.7,"v":26},{"x":"ξ=20%","T":1.8,"v":27.5},{"x":"ξ=20%","T":1.9,"v":28},{"x":"ξ=20%","T":2,"v":29},
      {"x":"ξ=20%","T":2.1,"v":37},{"x":"ξ=20%","T":2.2,"v":45},{"x":"ξ=20%","T":2.3,"v":52},{"x":"ξ=20%","T":2.4,"v":58},{"x":"ξ=20%","T":2.5,"v":62},{"x":"ξ=20%","T":2.6,"v":64.5},{"x":"ξ=20%","T":2.7,"v":66},{"x":"ξ=20%","T":2.8,"v":67.5},{"x":"ξ=20%","T":2.9,"v":68.5},{"x":"ξ=20%","T":3,"v":69.5},
      {"x":"ξ=20%","T":3.1,"v":70.5},{"x":"ξ=20%","T":3.2,"v":71.5},{"x":"ξ=20%","T":3.3,"v":72.5},{"x":"ξ=20%","T":3.4,"v":73.5},{"x":"ξ=20%","T":3.5,"v":75},{"x":"ξ=20%","T":3.62,"v":78},{"x":"ξ=20%","T":3.7,"v":80},{"x":"ξ=20%","T":3.8,"v":83},{"x":"ξ=20%","T":3.9,"v":87},{"x":"ξ=20%","T":4,"v":91},
      {"x":"ξ=20%","T":4.25,"v":105},{"x":"ξ=20%","T":4.5,"v":120},{"x":"ξ=20%","T":4.75,"v":136},{"x":"ξ=20%","T":5,"v":154}
    ],
    "sa": [
      {"x":"ξ=1%","T":0.1,"v":1.26},{"x":"ξ=1%","T":0.15,"v":0.77},{"x":"ξ=1%","T":0.2,"v":0.615},{"x":"ξ=1%","T":0.25,"v":0.57},{"x":"ξ=1%","T":0.3,"v":0.46},{"x":"ξ=1%","T":0.35,"v":0.455},{"x":"ξ=1%","T":0.4,"v":0.6},{"x":"ξ=1%","T":0.45,"v":0.53},{"x":"ξ=1%","T":0.5,"v":0.46},{"x":"ξ=1%","T":0.55,"v":0.385},
      {"x":"ξ=1%","T":0.6,"v":0.43},{"x":"ξ=1%","T":0.65,"v":0.45},{"x":"ξ=1%","T":0.7,"v":0.345},{"x":"ξ=1%","T":0.75,"v":0.315},{"x":"ξ=1%","T":0.8,"v":0.33},{"x":"ξ=1%","T":0.85,"v":0.305},{"x":"ξ=1%","T":0.9,"v":0.305},{"x":"ξ=1%","T":0.95,"v":0.34},{"x":"ξ=1%","T":1,"v":0.345},{"x":"ξ=1%","T":1.05,"v":0.38},
      {"x":"ξ=1%","T":1.1,"v":0.325},{"x":"ξ=1%","T":1.15,"v":0.305},{"x":"ξ=1%","T":1.2,"v":0.325},{"x":"ξ=1%","T":1.25,"v":0.295},{"x":"ξ=1%","T":1.3,"v":0.31},{"x":"ξ=1%","T":1.35,"v":0.325},{"x":"ξ=1%","T":1.4,"v":0.36},{"x":"ξ=1%","T":1.45,"v":0.35},{"x":"ξ=1%","T":1.5,"v":0.3},{"x":"ξ=1%","T":1.55,"v":0.29},
      {"x":"ξ=1%","T":1.7,"v":0.288},{"x":"ξ=1%","T":2.05,"v":0.288},{"x":"ξ=1%","T":2.1,"v":0.295},{"x":"ξ=1%","T":2.15,"v":0.3},{"x":"ξ=1%","T":2.2,"v":0.305},{"x":"ξ=1%","T":2.25,"v":0.3},{"x":"ξ=1%","T":2.3,"v":0.29},{"x":"ξ=1%","T":2.5,"v":0.29},{"x":"ξ=1%","T":3,"v":0.293},{"x":"ξ=1%","T":4,"v":0.297},{"x":"ξ=1%","T":5,"v":0.298},
      {"x":"ξ=2%","T":0.1,"v":0.92},{"x":"ξ=2%","T":0.15,"v":0.56},{"x":"ξ=2%","T":0.2,"v":0.55},{"x":"ξ=2%","T":0.25,"v":0.45},{"x":"ξ=2%","T":0.3,"v":0.4},{"x":"ξ=2%","T":0.35,"v":0.42},{"x":"ξ=2%","T":0.4,"v":0.48},{"x":"ξ=2%","T":0.45,"v":0.47},{"x":"ξ=2%","T":0.5,"v":0.4},{"x":"ξ=2%","T":0.55,"v":0.375},
      {"x":"ξ=2%","T":0.6,"v":0.385},{"x":"ξ=2%","T":0.65,"v":0.41},{"x":"ξ=2%","T":0.7,"v":0.33},{"x":"ξ=2%","T":0.75,"v":0.315},{"x":"ξ=2%","T":0.8,"v":0.31},{"x":"ξ=2%","T":0.9,"v":0.3},{"x":"ξ=2%","T":0.95,"v":0.325},{"x":"ξ=2%","T":1,"v":0.337},{"x":"ξ=2%","T":1.05,"v":0.337},{"x":"ξ=2%","T":1.1,"v":0.315},
      {"x":"ξ=2%","T":1.15,"v":0.3},{"x":"ξ=2%","T":1.2,"v":0.31},{"x":"ξ=2%","T":1.25,"v":0.295},{"x":"ξ=2%","T":1.3,"v":0.305},{"x":"ξ=2%","T":1.35,"v":0.32},{"x":"ξ=2%","T":1.4,"v":0.345},{"x":"ξ=2%","T":1.45,"v":0.335},{"x":"ξ=2%","T":1.5,"v":0.295},{"x":"ξ=2%","T":1.55,"v":0.29},{"x":"ξ=2%","T":2.1,"v":0.29},
      {"x":"ξ=2%","T":2.2,"v":0.295},{"x":"ξ=2%","T":2.3,"v":0.29},{"x":"ξ=2%","T":3,"v":0.293},{"x":"ξ=2%","T":4,"v":0.297},{"x":"ξ=2%","T":5,"v":0.298},
      {"x":"ξ=5%","T":0.1,"v":0.578},{"x":"ξ=5%","T":0.15,"v":0.425},{"x":"ξ=5%","T":0.2,"v":0.495},{"x":"ξ=5%","T":0.25,"v":0.36},{"x":"ξ=5%","T":0.3,"v":0.325},{"x":"ξ=5%","T":0.35,"v":0.35},{"x":"ξ=5%","T":0.4,"v":0.35},{"x":"ξ=5%","T":0.45,"v":0.378},{"x":"ξ=5%","T":0.5,"v":0.345},{"x":"ξ=5%","T":0.55,"v":0.36},
      {"x":"ξ=5%","T":0.6,"v":0.34},{"x":"ξ=5%","T":0.65,"v":0.34},{"x":"ξ=5%","T":0.7,"v":0.315},{"x":"ξ=5%","T":0.8,"v":0.31},{"x":"ξ=5%","T":0.9,"v":0.3},{"x":"ξ=5%","T":0.95,"v":0.305},{"x":"ξ=5%","T":1,"v":0.315},{"x":"ξ=5%","T":1.05,"v":0.315},{"x":"ξ=5%","T":1.1,"v":0.305},{"x":"ξ=5%","T":1.15,"v":0.285},
      {"x":"ξ=5%","T":1.2,"v":0.285},{"x":"ξ=5%","T":1.3,"v":0.29},{"x":"ξ=5%","T":1.35,"v":0.3},{"x":"ξ=5%","T":1.4,"v":0.31},{"x":"ξ=5%","T":1.45,"v":0.305},{"x":"ξ=5%","T":1.5,"v":0.29},{"x":"ξ=5%","T":2,"v":0.288},{"x":"ξ=5%","T":3,"v":0.293},{"x":"ξ=5%","T":4,"v":0.297},{"x":"ξ=5%","T":5,"v":0.298},
      {"x":"ξ=10%","T":0.1,"v":0.42},{"x":"ξ=10%","T":0.15,"v":0.385},{"x":"ξ=10%","T":0.2,"v":0.405},{"x":"ξ=10%","T":0.25,"v":0.34},{"x":"ξ=10%","T":0.3,"v":0.265},{"x":"ξ=10%","T":0.35,"v":0.285},{"x":"ξ=10%","T":0.4,"v":0.32},{"x":"ξ=10%","T":0.45,"v":0.33},{"x":"ξ=10%","T":0.5,"v":0.328},{"x":"ξ=10%","T":0.55,"v":0.338},
      {"x":"ξ=10%","T":0.6,"v":0.33},{"x":"ξ=10%","T":0.65,"v":0.32},{"x":"ξ=10%","T":0.7,"v":0.31},{"x":"ξ=10%","T":0.8,"v":0.305},{"x":"ξ=10%","T":0.9,"v":0.295},{"x":"ξ=10%","T":1,"v":0.29},{"x":"ξ=10%","T":1.1,"v":0.288},{"x":"ξ=10%","T":1.2,"v":0.287},{"x":"ξ=10%","T":1.5,"v":0.287},{"x":"ξ=10%","T":2,"v":0.288},
      {"x":"ξ=10%","T":3,"v":0.292},{"x":"ξ=10%","T":4,"v":0.295},{"x":"ξ=10%","T":5,"v":0.296},
      {"x":"ξ=20%","T":0.1,"v":0.3},{"x":"ξ=20%","T":0.15,"v":0.31},{"x":"ξ=20%","T":0.2,"v":0.325},{"x":"ξ=20%","T":0.25,"v":0.305},{"x":"ξ=20%","T":0.3,"v":0.275},{"x":"ξ=20%","T":0.35,"v":0.272},{"x":"ξ=20%","T":0.4,"v":0.285},{"x":"ξ=20%","T":0.45,"v":0.292},{"x":"ξ=20%","T":0.5,"v":0.305},{"x":"ξ=20%","T":0.55,"v":0.312},
      {"x":"ξ=20%","T":0.6,"v":0.313},{"x":"ξ=20%","T":0.65,"v":0.31},{"x":"ξ=20%","T":0.7,"v":0.305},{"x":"ξ=20%","T":0.8,"v":0.3},{"x":"ξ=20%","T":0.9,"v":0.295},{"x":"ξ=20%","T":1,"v":0.292},{"x":"ξ=20%","T":1.1,"v":0.289},{"x":"ξ=20%","T":1.2,"v":0.287},{"x":"ξ=20%","T":1.5,"v":0.287},{"x":"ξ=20%","T":2,"v":0.287},
      {"x":"ξ=20%","T":3,"v":0.291},{"x":"ξ=20%","T":4,"v":0.294},{"x":"ξ=20%","T":5,"v":0.295}
    ],
    "peak": [
      {"z":1,"d":58.3,"a":0.3664},{"z":2,"d":44.2,"a":0.3393},{"z":5,"d":27.0,"a":0.32},{"z":10,"d":18.9,"a":0.2978},{"z":20,"d":14.0,"a":0.2927}
    ],
    "drift": [
      {"xi":"ξ=2%","f":1,"d":1843},{"xi":"ξ=2%","f":2,"d":0},{"xi":"ξ=2%","f":3,"d":0},{"xi":"ξ=2%","f":4,"d":0},{"xi":"ξ=2%","f":5,"d":0},
      {"xi":"ξ=5%","f":1,"d":1841},{"xi":"ξ=5%","f":2,"d":0},{"xi":"ξ=5%","f":3,"d":0},{"xi":"ξ=5%","f":4,"d":0},{"xi":"ξ=5%","f":5,"d":0},
      {"xi":"ξ=10%","f":1,"d":1840},{"xi":"ξ=10%","f":2,"d":0},{"xi":"ξ=10%","f":3,"d":0},{"xi":"ξ=10%","f":4,"d":0},{"xi":"ξ=10%","f":5,"d":0}
    ],
    "energy": [
      {"t":0,"Kinetic":0,"Input":0},{"t":0.5,"Kinetic":5,"Input":5},{"t":1,"Kinetic":10,"Input":10},{"t":1.5,"Kinetic":15,"Input":15},{"t":1.8,"Kinetic":5,"Input":5},{"t":2,"Kinetic":20,"Input":20},{"t":2.1,"Kinetic":60,"Input":60},{"t":2.2,"Kinetic":40,"Input":40},{"t":2.3,"Kinetic":30,"Input":30},{"t":2.4,"Kinetic":55,"Input":55},
      {"t":2.5,"Kinetic":60,"Input":60},{"t":2.6,"Kinetic":20,"Input":20},{"t":2.7,"Kinetic":0,"Input":0},{"t":2.9,"Kinetic":10,"Input":10},{"t":3,"Kinetic":30,"Input":30},{"t":3.1,"Kinetic":60,"Input":60},{"t":3.2,"Kinetic":110,"Input":110},{"t":3.3,"Kinetic":150,"Input":150},{"t":3.4,"Kinetic":120,"Input":120},{"t":3.5,"Kinetic":80,"Input":80},
      {"t":3.6,"Kinetic":120,"Input":120},{"t":3.7,"Kinetic":220,"Input":220},{"t":3.8,"Kinetic":130,"Input":130},{"t":3.9,"Kinetic":180,"Input":180},{"t":4,"Kinetic":160,"Input":160},{"t":4.1,"Kinetic":190,"Input":190},{"t":4.2,"Kinetic":150,"Input":150},{"t":4.25,"Kinetic":300,"Input":300},{"t":4.3,"Kinetic":410,"Input":410},{"t":4.35,"Kinetic":320,"Input":320},
      {"t":4.4,"Kinetic":250,"Input":250},{"t":4.5,"Kinetic":180,"Input":180},{"t":4.6,"Kinetic":100,"Input":100},{"t":4.7,"Kinetic":70,"Input":70},{"t":4.8,"Kinetic":180,"Input":180},{"t":4.85,"Kinetic":90,"Input":90},{"t":4.9,"Kinetic":60,"Input":60},{"t":5,"Kinetic":150,"Input":150},{"t":5.1,"Kinetic":110,"Input":110},{"t":5.2,"Kinetic":40,"Input":40},
      {"t":5.3,"Kinetic":10,"Input":10},{"t":5.5,"Kinetic":0,"Input":0},{"t":5.8,"Kinetic":0,"Input":0},{"t":6,"Kinetic":10,"Input":10},{"t":6.2,"Kinetic":60,"Input":60},{"t":6.3,"Kinetic":20,"Input":20},{"t":6.5,"Kinetic":5,"Input":5},{"t":7,"Kinetic":0,"Input":0},{"t":7.3,"Kinetic":10,"Input":10},{"t":7.5,"Kinetic":40,"Input":40},
      {"t":7.7,"Kinetic":10,"Input":10},{"t":8,"Kinetic":0,"Input":0},{"t":8.3,"Kinetic":10,"Input":10},{"t":8.5,"Kinetic":50,"Input":50},{"t":8.6,"Kinetic":20,"Input":20},{"t":8.7,"Kinetic":60,"Input":60},{"t":8.8,"Kinetic":110,"Input":110},{"t":8.9,"Kinetic":250,"Input":250},{"t":9,"Kinetic":400,"Input":400},{"t":9.1,"Kinetic":500,"Input":500},
      {"t":9.2,"Kinetic":600,"Input":600},{"t":9.3,"Kinetic":700,"Input":700},{"t":9.35,"Kinetic":680,"Input":680},{"t":9.4,"Kinetic":720,"Input":720},{"t":9.5,"Kinetic":600,"Input":600},{"t":9.55,"Kinetic":540,"Input":540},{"t":9.6,"Kinetic":610,"Input":610},{"t":9.7,"Kinetic":930,"Input":930},{"t":9.75,"Kinetic":800,"Input":800},{"t":9.8,"Kinetic":600,"Input":600},
      {"t":9.85,"Kinetic":520,"Input":520},{"t":9.9,"Kinetic":640,"Input":640},{"t":9.95,"Kinetic":470,"Input":470},{"t":10,"Kinetic":650,"Input":650},{"t":10.1,"Kinetic":900,"Input":900},{"t":10.15,"Kinetic":1000,"Input":1000},{"t":10.2,"Kinetic":1150,"Input":1150},{"t":10.3,"Kinetic":1250,"Input":1250},{"t":10.35,"Kinetic":1200,"Input":1200},{"t":10.4,"Kinetic":1100,"Input":1100},
      {"t":10.45,"Kinetic":1050,"Input":1050},{"t":10.5,"Kinetic":1200,"Input":1200},{"t":10.6,"Kinetic":1400,"Input":1400},{"t":10.65,"Kinetic":1480,"Input":1480},{"t":10.7,"Kinetic":1250,"Input":1250},{"t":10.75,"Kinetic":1100,"Input":1100},{"t":10.8,"Kinetic":1050,"Input":1050},{"t":10.9,"Kinetic":1350,"Input":1350},{"t":11,"Kinetic":1300,"Input":1300},{"t":11.1,"Kinetic":1450,"Input":1450},
      {"t":11.15,"Kinetic":1350,"Input":1350},{"t":11.2,"Kinetic":1500,"Input":1500},{"t":11.3,"Kinetic":2000,"Input":2000},{"t":11.4,"Kinetic":2300,"Input":2300},{"t":11.45,"Kinetic":2400,"Input":2400},{"t":11.5,"Kinetic":1900,"Input":1900},{"t":11.6,"Kinetic":2400,"Input":2400},{"t":11.7,"Kinetic":2650,"Input":2650},{"t":11.75,"Kinetic":2550,"Input":2550},{"t":11.8,"Kinetic":2250,"Input":2250},
      {"t":11.9,"Kinetic":2100,"Input":2100},{"t":11.95,"Kinetic":1950,"Input":1950},{"t":12,"Kinetic":2150,"Input":2150},{"t":12.05,"Kinetic":2000,"Input":2000},{"t":12.1,"Kinetic":1900,"Input":1900},{"t":12.2,"Kinetic":2200,"Input":2200},{"t":12.3,"Kinetic":2000,"Input":2000},{"t":12.35,"Kinetic":2300,"Input":2300},{"t":12.45,"Kinetic":2550,"Input":2550},{"t":12.5,"Kinetic":2720,"Input":2720},
      {"t":12.55,"Kinetic":2400,"Input":2400},{"t":12.6,"Kinetic":2250,"Input":2250},{"t":12.7,"Kinetic":2100,"Input":2100},{"t":12.75,"Kinetic":2400,"Input":2400},{"t":12.8,"Kinetic":2550,"Input":2550},{"t":12.9,"Kinetic":2650,"Input":2650},{"t":12.95,"Kinetic":2400,"Input":2400},{"t":13,"Kinetic":2350,"Input":2350},{"t":13.05,"Kinetic":2500,"Input":2500},{"t":13.15,"Kinetic":2550,"Input":2550},
      {"t":13.2,"Kinetic":2800,"Input":2800},{"t":13.3,"Kinetic":2400,"Input":2400},{"t":13.4,"Kinetic":2500,"Input":2500},{"t":13.45,"Kinetic":2300,"Input":2300},{"t":13.5,"Kinetic":2700,"Input":2700},{"t":13.55,"Kinetic":2550,"Input":2550},{"t":13.6,"Kinetic":2300,"Input":2300},{"t":13.7,"Kinetic":1900,"Input":1900},{"t":13.75,"Kinetic":1650,"Input":1650},{"t":13.8,"Kinetic":1850,"Input":1850},
      {"t":13.9,"Kinetic":2200,"Input":2200},{"t":13.95,"Kinetic":2350,"Input":2350},{"t":14,"Kinetic":2250,"Input":2250},{"t":14.1,"Kinetic":2400,"Input":2400},{"t":14.2,"Kinetic":2350,"Input":2350},{"t":14.3,"Kinetic":2700,"Input":2700},{"t":14.4,"Kinetic":3000,"Input":3000},{"t":14.45,"Kinetic":3200,"Input":3200},{"t":14.5,"Kinetic":3150,"Input":3150},{"t":14.6,"Kinetic":3500,"Input":3500},
      {"t":14.65,"Kinetic":3650,"Input":3650},{"t":14.7,"Kinetic":3550,"Input":3550},{"t":14.8,"Kinetic":3650,"Input":3650},{"t":14.85,"Kinetic":3500,"Input":3500},{"t":14.9,"Kinetic":3700,"Input":3700},{"t":15,"Kinetic":3800,"Input":3800},{"t":15.05,"Kinetic":4150,"Input":4150},{"t":15.1,"Kinetic":4250,"Input":4250},{"t":15.15,"Kinetic":4100,"Input":4100},{"t":15.2,"Kinetic":4200,"Input":4200},
      {"t":15.3,"Kinetic":4480,"Input":4480},{"t":15.35,"Kinetic":4200,"Input":4200},{"t":15.4,"Kinetic":4050,"Input":4050},{"t":15.5,"Kinetic":4180,"Input":4180},{"t":15.6,"Kinetic":4050,"Input":4050},{"t":15.7,"Kinetic":4100,"Input":4100},{"t":15.8,"Kinetic":3900,"Input":3900},{"t":15.9,"Kinetic":3850,"Input":3850},{"t":16,"Kinetic":3680,"Input":3680},{"t":16.1,"Kinetic":3700,"Input":3700},
      {"t":16.2,"Kinetic":3800,"Input":3800},{"t":16.3,"Kinetic":3900,"Input":3900},{"t":16.4,"Kinetic":3950,"Input":3950},{"t":16.5,"Kinetic":4000,"Input":4000},{"t":16.6,"Kinetic":4200,"Input":4200},{"t":16.7,"Kinetic":4180,"Input":4180},{"t":16.8,"Kinetic":4250,"Input":4250},{"t":16.9,"Kinetic":4300,"Input":4300},{"t":17,"Kinetic":4320,"Input":4320},{"t":17.2,"Kinetic":4380,"Input":4380},
      {"t":17.3,"Kinetic":4420,"Input":4420},{"t":17.4,"Kinetic":4400,"Input":4400},{"t":17.5,"Kinetic":4470,"Input":4470},{"t":17.6,"Kinetic":4530,"Input":4530},{"t":17.7,"Kinetic":4580,"Input":4580},{"t":17.8,"Kinetic":4500,"Input":4500},{"t":17.9,"Kinetic":4420,"Input":4420},{"t":18,"Kinetic":4400,"Input":4400},{"t":18.2,"Kinetic":4340,"Input":4340},{"t":18.3,"Kinetic":4300,"Input":4300},
      {"t":18.5,"Kinetic":4330,"Input":4330},{"t":18.7,"Kinetic":4340,"Input":4340},{"t":18.9,"Kinetic":4320,"Input":4320},{"t":19,"Kinetic":4350,"Input":4350},{"t":19.2,"Kinetic":4320,"Input":4320},{"t":19.4,"Kinetic":4340,"Input":4340},{"t":19.6,"Kinetic":4330,"Input":4330},{"t":19.8,"Kinetic":4360,"Input":4360},{"t":20,"Kinetic":4390,"Input":4390}
    ],
    "energy2": [
      {"s":"Strain","t":0,"e":0},{"s":"Strain","t":20,"e":0},
      {"s":"Dissipated","t":0,"e":0},{"s":"Dissipated","t":8,"e":3},{"s":"Dissipated","t":8.5,"e":8},{"s":"Dissipated","t":9,"e":16},{"s":"Dissipated","t":9.5,"e":25},{"s":"Dissipated","t":10,"e":38},{"s":"Dissipated","t":10.5,"e":60},{"s":"Dissipated","t":11,"e":85},
      {"s":"Dissipated","t":11.2,"e":96},{"s":"Dissipated","t":11.6,"e":140},{"s":"Dissipated","t":12,"e":175},{"s":"Dissipated","t":12.5,"e":220},{"s":"Dissipated","t":13,"e":265},{"s":"Dissipated","t":13.5,"e":305},{"s":"Dissipated","t":14,"e":340},{"s":"Dissipated","t":14.5,"e":400},{"s":"Dissipated","t":15,"e":478},{"s":"Dissipated","t":15.5,"e":560},
      {"s":"Dissipated","t":16,"e":640},{"s":"Dissipated","t":16.5,"e":730},{"s":"Dissipated","t":17,"e":820},{"s":"Dissipated","t":17.5,"e":912},{"s":"Dissipated","t":18,"e":1000},{"s":"Dissipated","t":18.5,"e":1090},{"s":"Dissipated","t":19,"e":1170},{"s":"Dissipated","t":19.5,"e":1250},{"s":"Dissipated","t":20,"e":1321}
    ],
    "pie": [
      {"c":"Dissipated","v":23.2,"p":"23.2%","o":1,"side":"r"},
      {"c":"Strain\n(Final)","v":0.0,"p":"0.0%","o":2,"side":"r"},
      {"c":"Kinetic\n(Final)","v":76.8,"p":"76.8%","o":3,"side":"l"}
    ],
    "eff": [
      {"z":1,"r":0.758},{"z":2,"r":1.0},{"z":5,"r":1.64},{"z":10,"r":2.35},{"z":20,"r":3.13}
    ]
  },
  "concat": [
    {
      "title": "Earthquake Ground Motion",
      "width": 654, "height": 482,
      "data": {"name": "gm"},
      "mark": {"type": "line", "color": "#000000", "strokeWidth": 1.5},
      "encoding": {
        "x": {"field": "t", "type": "quantitative", "scale": {"domain": [0, 20], "nice": false, "zero": false},
              "axis": {"title": "Time (s)", "values": [0, 2.5, 5, 7.5, 10, 12.5, 15, 17.5, 20], "format": ".1f"}},
        "y": {"field": "a", "type": "quantitative", "scale": {"domain": [-0.281, 0.328], "nice": false, "zero": false},
              "axis": {"title": "Acceleration (g)", "values": [-0.2, -0.1, 0, 0.1, 0.2, 0.3], "format": ".1f", "labelExpr": "replace(datum.label, '−', '-')"}}
      }
    },
    {
      "title": "SDOF Response (T=1.0s)",
      "width": 654, "height": 482,
      "data": {"name": "sdof"},
      "mark": {"type": "line", "interpolate": "monotone", "strokeWidth": 3},
      "encoding": {
        "x": {"field": "t", "type": "quantitative", "scale": {"domain": [0, 20], "nice": false, "zero": false},
              "axis": {"title": "Time (s)", "values": [0, 2.5, 5, 7.5, 10, 12.5, 15, 17.5, 20], "format": ".1f"}},
        "y": {"field": "d", "type": "quantitative", "scale": {"domain": [-63.6, 59.6], "nice": false, "zero": false},
              "axis": {"title": "Displacement (mm)", "values": [-60, -40, -20, 0, 20, 40], "format": "d", "labelExpr": "replace(datum.label, '−', '-')"}},
        "color": {"field": "x", "type": "nominal",
                  "scale": {"domain": ["ξ=1%", "ξ=2%", "ξ=5%", "ξ=10%", "ξ=20%"], "range": ["#602e6e", "#586c9c", "#42a19d", "#76d17a", "#fdeb46"]},
                  "legend": {"title": null, "orient": "top-left", "symbolType": "M-2,0L2,0", "symbolSize": 306, "symbolOffset": 10, "labelOffset": 28}}
      }
    },
    {
      "title": "Displacement Response Spectrum",
      "width": 654, "height": 482,
      "data": {"name": "sd"},
      "mark": {"type": "line", "strokeWidth": 3},
      "encoding": {
        "x": {"field": "T", "type": "quantitative", "scale": {"domain": [-0.145, 5.245], "nice": false, "zero": false},
              "axis": {"title": "Period (s)", "values": [0, 1, 2, 3, 4, 5], "format": "d"}},
        "y": {"field": "v", "type": "quantitative", "scale": {"domain": [-11.3, 247.8], "nice": false, "zero": false},
              "axis": {"title": "Spectral Displacement (mm)", "values": [0, 50, 100, 150, 200], "format": "d"}},
        "color": {"field": "x", "type": "nominal",
                  "scale": {"domain": ["ξ=1%", "ξ=2%", "ξ=5%", "ξ=10%", "ξ=20%"], "range": ["#602e6e", "#586c9c", "#42a19d", "#76d17a", "#fdeb46"]},
                  "legend": {"title": null, "orient": "top-left", "symbolType": "M-2,0L2,0", "symbolSize": 306, "symbolOffset": 10, "labelOffset": 28}}
      }
    },
    {
      "title": "Acceleration Response Spectrum",
      "width": 654, "height": 482,
      "data": {"name": "sa"},
      "mark": {"type": "line", "strokeWidth": 3},
      "encoding": {
        "x": {"field": "T", "type": "quantitative", "scale": {"domain": [-0.145, 5.245], "nice": false, "zero": false},
              "axis": {"title": "Period (s)", "values": [0, 1, 2, 3, 4, 5], "format": "d"}},
        "y": {"field": "v", "type": "quantitative", "scale": {"domain": [0.218, 1.307], "nice": false, "zero": false},
              "axis": {"title": "Spectral Acceleration (g)", "values": [0.4, 0.6, 0.8, 1.0, 1.2], "format": ".1f"}},
        "color": {"field": "x", "type": "nominal",
                  "scale": {"domain": ["ξ=1%", "ξ=2%", "ξ=5%", "ξ=10%", "ξ=20%"], "range": ["#602e6e", "#586c9c", "#42a19d", "#76d17a", "#fdeb46"]},
                  "legend": {"title": null, "orient": "top-right", "symbolType": "M-2,0L2,0", "symbolSize": 306, "symbolOffset": 10, "labelOffset": 28}}
      }
    },
    {
      "title": {"text": "Peak Response vs Damping", "offset": 1},
      "width": 654, "height": 482,
      "data": {"name": "peak"},
      "encoding": {
        "x": {"field": "z", "type": "quantitative", "scale": {"domain": [0.05, 20.95], "nice": false, "zero": false},
              "axis": {"title": "Damping Ratio (%)", "values": [2.5, 5, 7.5, 10, 12.5, 15, 17.5, 20], "format": ".1f"}}
      },
      "layer": [
        {
          "encoding": {
            "y": {"field": "d", "type": "quantitative", "scale": {"domain": [11.8, 60.47], "nice": false, "zero": false},
                  "axis": {"title": "Peak Displacement (mm)", "values": [20, 30, 40, 50, 60], "format": "d", "labelColor": "#0000ff", "titleColor": "#0000ff"}}
          },
          "layer": [
            {"mark": {"type": "line", "color": "#0000ff", "strokeWidth": 4}},
            {"mark": {"type": "point", "shape": "circle", "filled": true, "opacity": 1, "size": 220, "color": "#0000ff"}}
          ]
        },
        {
          "encoding": {
            "y": {"field": "a", "type": "quantitative", "scale": {"domain": [0.289, 0.3701], "nice": false, "zero": false},
                  "axis": {"orient": "right", "title": "Peak Acceleration (g)", "titleAngle": 270, "titlePadding": 28, "values": [0.29, 0.3, 0.31, 0.32, 0.33, 0.34, 0.35, 0.36, 0.37], "format": ".2f", "grid": false, "labelColor": "#ff0000", "titleColor": "#ff0000"}}
          },
          "layer": [
            {"mark": {"type": "line", "color": "#ff0000", "strokeWidth": 4}},
            {"mark": {"type": "point", "shape": "square", "filled": true, "opacity": 1, "size": 260, "color": "#ff0000"}}
          ]
        }
      ],
      "resolve": {"scale": {"y": "independent"}}
    },
    {
      "title": "Inter-story Drift Envelope",
      "width": 654, "height": 482,
      "data": {"name": "drift"},
      "encoding": {
        "x": {"field": "d", "type": "quantitative", "scale": {"domain": [-92, 1932], "nice": false, "zero": false},
              "axis": {"title": "Max Inter-story Drift (‰)", "values": [0, 250, 500, 750, 1000, 1250, 1500, 1750], "format": "d"}},
        "y": {"field": "f", "type": "quantitative", "scale": {"domain": [0.8, 5.2], "nice": false, "zero": false},
              "axis": {"title": "Floor", "values": [1, 2, 3, 4, 5], "format": "d"}},
        "order": {"field": "f", "type": "quantitative"}
      },
      "layer": [
        {"transform": [{"filter": "datum.xi == 'ξ=2%'"}], "mark": {"type": "line", "color": "#0000ff", "strokeWidth": 4}},
        {"transform": [{"filter": "datum.xi == 'ξ=2%'"}], "mark": {"type": "point", "shape": "circle", "filled": true, "opacity": 1, "size": 250, "color": "#0000ff"}},
        {"transform": [{"filter": "datum.xi == 'ξ=5%'"}], "mark": {"type": "line", "color": "#ff0000", "strokeWidth": 4}},
        {"transform": [{"filter": "datum.xi == 'ξ=5%'"}], "mark": {"type": "point", "shape": "square", "filled": true, "opacity": 1, "size": 260, "color": "#ff0000"}},
        {"transform": [{"filter": "datum.xi == 'ξ=10%'"}], "mark": {"type": "line", "color": "#008000", "strokeWidth": 4}},
        {"transform": [{"filter": "datum.xi == 'ξ=10%'"}], "mark": {"type": "point", "shape": "triangle-up", "filled": true, "opacity": 1, "size": 250, "color": "#008000"}},
        {
          "mark": {"type": "point", "filled": true, "opacity": 0},
          "encoding": {
            "color": {"field": "xi", "type": "nominal",
                      "scale": {"domain": ["ξ=2%", "ξ=5%", "ξ=10%"], "range": ["#0000ff", "#ff0000", "#008000"]},
                      "legend": {"title": null, "orient": "top-right", "symbolSize": 296, "symbolOffset": 14, "labelOffset": 32, "labelFontSize": 16, "rowPadding": 8, "symbolStrokeWidth": 0, "symbolOpacity": 1}},
            "shape": {"field": "xi", "type": "nominal",
                      "scale": {"domain": ["ξ=2%", "ξ=5%", "ξ=10%"],
                                "range": ["M-2.5,-0.23L2.5,-0.23L2.5,0.23L-2.5,0.23Z M1,0A1,1,0,1,1,-1,0A1,1,0,1,1,1,0Z",
                                          "M-2.5,-0.23L2.5,-0.23L2.5,0.23L-2.5,0.23Z M-0.9,-0.9L0.9,-0.9L0.9,0.9L-0.9,0.9Z",
                                          "M-2.5,-0.23L2.5,-0.23L2.5,0.23L-2.5,0.23Z M0,-1L1.05,0.85L-1.05,0.85Z"]},
                      "legend": {"title": null, "orient": "top-right", "symbolSize": 296, "symbolOffset": 14, "labelOffset": 32, "labelFontSize": 16, "rowPadding": 8, "symbolStrokeWidth": 0, "symbolOpacity": 1}}
          }
        }
      ]
    },
    {
      "title": "Energy Time History",
      "width": 654, "height": 482,
      "encoding": {
        "x": {"field": "t", "type": "quantitative", "scale": {"domain": [0, 20], "nice": false, "zero": false},
              "axis": {"title": "Time (s)", "values": [0, 2.5, 5, 7.5, 10, 12.5, 15, 17.5, 20], "format": ".1f"}},
        "y": {"field": "e", "type": "quantitative", "scale": {"domain": [-229, 4809], "nice": false, "zero": false},
              "axis": {"title": "Energy (J)", "values": [0, 1000, 2000, 3000, 4000], "format": "d"}},
        "color": {"field": "s", "type": "nominal",
                  "scale": {"domain": ["Kinetic", "Strain", "Dissipated", "Input"], "range": ["#3333ff", "#ff3333", "#339933", "#333333"]},
                  "legend": {"title": null, "orient": "top-left", "symbolType": "M-2,0L2,0", "symbolSize": 420, "symbolOffset": 11, "labelOffset": 23, "labelFont": "DejaVu Sans Mono", "labelFontSize": 16, "rowPadding": 4}},
        "strokeDash": {"field": "s", "type": "nominal",
                       "scale": {"domain": ["Kinetic", "Strain", "Dissipated", "Input"], "range": [[1, 0], [1, 0], [1, 0], [9, 4]]},
                       "legend": {"title": null, "orient": "top-left", "symbolType": "M-2,0L2,0", "symbolSize": 420, "symbolOffset": 11, "labelOffset": 23, "labelFont": "DejaVu Sans Mono", "labelFontSize": 16, "rowPadding": 4}}
      },
      "layer": [
        {"data": {"name": "energy"}, "transform": [{"fold": ["Kinetic", "Input"], "as": ["s", "e"]}, {"filter": "datum.s == 'Kinetic'"}],
         "mark": {"type": "line", "strokeWidth": 3}},
        {"data": {"name": "energy2"}, "mark": {"type": "line", "strokeWidth": 3, "interpolate": "monotone"}},
        {"data": {"name": "energy"}, "transform": [{"fold": ["Kinetic", "Input"], "as": ["s", "e"]}, {"filter": "datum.s == 'Input'"}],
         "mark": {"type": "line", "strokeWidth": 4}}
      ]
    },
    {
      "title": "Energy Distribution",
      "width": 654, "height": 482,
      "view": {"stroke": null},
      "data": {"name": "pie"},
      "encoding": {
        "theta": {"field": "v", "type": "quantitative", "stack": true},
        "order": {"field": "o", "type": "quantitative"}
      },
      "layer": [
        {"mark": {"type": "arc", "outerRadius": 193},
         "encoding": {"color": {"field": "c", "type": "nominal", "scale": {"domain": ["Dissipated", "Strain\n(Final)", "Kinetic\n(Final)"], "range": ["#90ee90", "#f08080", "#87ceeb"]}, "legend": null}}},
        {"mark": {"type": "text", "radius": 116, "fontSize": 17, "font": "DejaVu Sans Mono", "color": "#000000", "align": "center", "baseline": "middle"},
         "encoding": {"text": {"field": "p", "type": "nominal"}}},
        {"mark": {"type": "text", "radius": 212, "fontSize": 17, "font": "DejaVu Sans Mono", "color": "#000000", "align": "left", "baseline": "middle", "lineBreak": "\n", "lineHeight": 21},
         "encoding": {"text": {"condition": {"test": "datum.side == 'r'", "field": "c", "type": "nominal"}, "value": ""}}},
        {"mark": {"type": "text", "radius": 212, "fontSize": 17, "font": "DejaVu Sans Mono", "color": "#000000", "align": "right", "baseline": "middle", "lineBreak": "\n", "lineHeight": 21},
         "encoding": {"text": {"condition": {"test": "datum.side == 'l'", "field": "c", "type": "nominal"}, "value": ""}}}
      ]
    },
    {
      "title": "Damping Effectiveness",
      "width": 654, "height": 482,
      "data": {"name": "eff"},
      "encoding": {
        "x": {"field": "z", "type": "quantitative", "scale": {"domain": [0.05, 20.95], "nice": false, "zero": false},
              "axis": {"title": "Damping Ratio (%)", "values": [2.5, 5, 7.5, 10, 12.5, 15, 17.5, 20], "format": ".1f"}},
        "y": {"field": "r", "type": "quantitative", "scale": {"domain": [0.64, 3.25], "nice": false, "zero": false},
              "axis": {"title": "Response Reduction Factor", "values": [1.0, 1.5, 2.0, 2.5, 3.0], "format": ".1f"}}
      },
      "layer": [
        {"mark": {"type": "line", "color": "#bf00bf", "strokeWidth": 4.5}},
        {"mark": {"type": "point", "shape": "circle", "filled": true, "opacity": 1, "size": 450, "color": "#bf00bf"}}
      ]
    }
  ]
}
